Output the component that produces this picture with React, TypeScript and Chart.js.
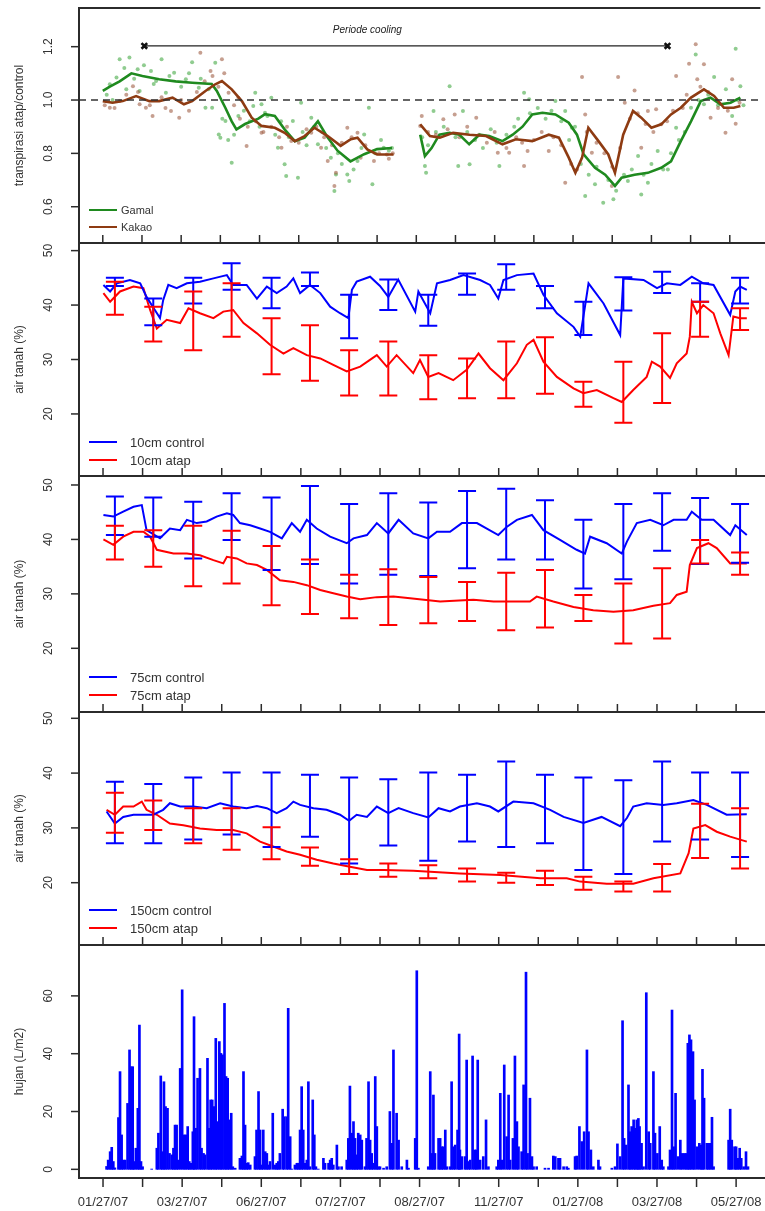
import React, { useEffect, useRef } from "react";
import { Chart, registerables } from "chart.js";

Chart.register(...registerables);

const FONT = '"Liberation Sans", Arial, Helvetica, sans-serif';
const PAGE_W = 765;
const PLOT_LEFT = 79;
const X_MIN = -0.607;
const X_MAX = 16.73;

// x axis: months since 01/27/07
const X_TICK_MONTHS = [0, 1, 2, 3, 4, 5, 6, 7, 8, 9, 10, 11, 12, 13, 14, 15, 16];
const X_TICK_LABELS = ["01/27/07", "", "03/27/07", "", "06/27/07", "", "07/27/07", "", "08/27/07", "", "11/27/07", "", "01/27/08", "", "03/27/08", "", "05/27/08"];

// ---------- Panel 1: transpirasi atap/control ----------
const gamalLineX = [0, 0.18, 0.43, 0.73, 1.01, 1.44, 1.86, 2.28, 2.78, 2.91, 3.13, 3.29, 3.41, 3.63, 3.97, 4.14, 4.39, 4.64, 4.9, 5.15, 5.49, 5.74, 5.99, 6.32, 6.67, 7.0, 7.38, 7.75, 8.1, 8.22, 8.39, 8.59, 8.85, 9.1, 9.35, 9.61, 9.86, 10.2, 10.46, 10.71, 10.96, 11.22, 11.55, 11.89, 12.1, 12.27, 12.56, 12.82, 13.07, 13.24, 13.57, 13.91, 14.25, 14.5, 14.75, 15.01, 15.26, 15.51, 15.76, 16.02, 16.27];
const gamalLineY = [1.034, 1.05, 1.07, 1.1, 1.09, 1.078, 1.07, 1.065, 1.06, 1.034, 0.97, 0.92, 0.89, 0.91, 0.93, 0.947, 0.94, 0.89, 0.846, 0.859, 0.92, 0.859, 0.81, 0.77, 0.797, 0.816, 0.82, null, 0.87, 0.79, 0.82, 0.87, 0.877, 0.87, 0.834, 0.87, 0.865, 0.846, 0.87, 0.9, 0.946, 0.952, 0.946, 0.915, 0.87, 0.796, 0.746, 0.72, 0.678, 0.709, 0.72, 0.727, 0.746, 0.77, 0.846, 0.92, 0.996, 1.009, 0.984, 0.99, 1.009];
const kakaoLineX = [0, 0.25, 0.51, 0.85, 1.19, 1.44, 1.78, 2.07, 2.28, 2.62, 2.87, 3.04, 3.29, 3.55, 3.8, 4.05, 4.39, 4.64, 4.9, 5.15, 5.4, 5.74, 6.07, 6.33, 6.5, 6.75, 7.0, 7.42, 7.75, 8.1, 8.35, 8.6, 8.94, 9.36, 9.78, 10.2, 10.54, 10.96, 11.38, 11.64, 11.89, 12.06, 12.23, 12.39, 12.65, 12.9, 13.07, 13.28, 13.53, 13.74, 14.0, 14.25, 14.5, 14.75, 15.01, 15.34, 15.6, 15.85, 16.1, 16.27];
const kakaoLineY = [0.996, 0.99, 0.996, 1.015, 0.996, 0.996, 1.009, 0.984, 0.996, 1.034, 1.059, 1.071, 1.04, 0.996, 0.934, 0.903, 0.896, 0.877, 0.846, 0.865, 0.896, 0.865, 0.828, 0.853, 0.859, 0.815, 0.796, 0.796, null, 0.909, 0.865, 0.859, 0.877, 0.87, 0.865, 0.834, 0.853, 0.846, 0.87, 0.859, 0.784, 0.727, 0.784, 0.896, 0.846, 0.796, 0.727, 0.87, 0.959, 0.934, 0.896, 0.909, 0.946, 0.971, 1.009, 1.04, 1.015, 0.971, 0.971, 0.978];

const gamalDotsX = [0.43, 0.68, 1.5, 2.28, 2.87, 0.89, 1.23, 1.82, 0.18, 0.35, 0.6, 0.94, 1.36, 1.61, 2.12, 2.45, 2.62, 2.79, 2.96, 3.0, 3.29, 3.13, 3.46, 3.89, 4.05, 4.3, 3.84, 4.14, 4.47, 4.64, 4.68, 4.98, 5.06, 4.85, 5.32, 5.49, 5.82, 5.91, 5.95, 6.24, 6.29, 6.5, 6.67, 6.79, 6.88, 7.17, 7.38,
  8.85, 8.44, 8.22, 8.25, 9.07, 9.36, 9.19, 10.12, 10.75, 10.88, 11.55, 11.8, 11.97, 12.31, 12.56, 12.77, 13.03, 13.4, 13.74, 13.91, 13.66, 14.16, 14.42, 14.63, 15.01, 15.13, 15.6, 16.15, 16.27, 16.06, 15.34,
  0.1, 0.25, 0.55, 0.8, 1.05, 1.3, 1.7, 2.0, 2.2, 2.5, 2.7, 3.05, 3.2, 3.35, 3.6, 3.75, 4.0, 4.2, 4.4, 4.55, 4.75, 5.1, 5.2, 5.4, 5.6, 5.7, 6.0, 6.1, 6.4, 6.6, 6.95, 7.1, 7.3,
  8.15, 8.3, 8.5, 8.7, 9.0, 9.3, 9.5, 9.7, 9.9, 10.05, 10.3, 10.5, 10.6, 10.9, 11.1, 11.3, 11.45, 11.7, 11.9, 12.05, 12.2, 12.4, 12.6, 12.9, 13.1, 13.3, 13.5, 13.8, 14.0, 14.3, 14.5, 14.7, 14.85, 15.2, 15.45, 15.7, 15.9, 16.2, 16.35];
const gamalDotsY = [1.153, 1.159, 1.153, 1.142, 1.14, 1.115, 1.109, 1.102, 1.059, 1.084, 1.04, 1.034, 1.071, 1.027, 1.078, 1.046, 0.971, 0.971, 0.871, 0.859, 0.765, 0.921, 0.94, 1.027, 0.984, 1.009, 0.978, 0.952, 0.821, 0.759, 0.715, 0.709, 0.99, 0.921, 0.934, 0.834, 0.784, 0.659, 0.721, 0.721, 0.696, 0.771, 0.871, 0.971, 0.684, 0.821, 0.82,
  1.052, 0.959, 0.753, 0.727, 0.753, 0.759, 0.959, 0.753, 1.027, 1.003, 0.996, 0.959, 0.896, 0.64, 0.684, 0.615, 0.628, 0.696, 0.646, 0.69, 0.79, 0.809, 0.74, 0.896, 0.971, 1.171, 1.086, 1.192, 1.052, 0.94, 0.984,
  1.02, 1.0, 1.12, 1.08, 1.13, 1.06, 1.09, 1.05, 1.1, 1.08, 1.04, 0.93, 0.85, 0.87, 0.96, 0.92, 0.9, 0.94, 0.87, 0.92, 0.86, 0.88, 0.83, 0.9, 0.88, 0.82, 0.8, 0.76, 0.74, 0.82, 0.8, 0.85, 0.81,
  0.86, 0.83, 0.88, 0.9, 0.86, 0.88, 0.85, 0.82, 0.89, 0.84, 0.87, 0.9, 0.93, 0.95, 0.97, 0.93, 0.96, 0.92, 0.85, 0.9, 0.76, 0.72, 0.75, 0.7, 0.66, 0.72, 0.74, 0.72, 0.76, 0.74, 0.8, 0.85, 0.88, 1.0, 1.02, 0.98, 1.04, 1.0, 0.98];
const kakaoDotsX = [2.49, 3.04, 2.75, 0.77, 0.18, 1.27, 1.74, 1.95, 1.1, 3.67, 3.21, 3.46, 4.05, 4.56, 4.81, 5.32, 5.57, 5.74, 5.95, 5.91, 6.24, 6.5, 6.58, 6.92, 7.25, 0.43, 0.94,
  8.14, 8.1, 8.69, 8.98, 9.53, 10.08, 10.75, 10.37, 10.84, 11.38, 11.8, 12.23, 12.31, 12.48, 12.99, 13.15, 13.57, 13.32, 13.91, 14.12, 14.63, 15.13, 14.96, 15.34, 15.17, 15.51, 15.89, 16.15, 16.06, 13.74, 14.25,
  0.05, 0.3, 0.6, 0.9, 1.2, 1.5, 1.6, 2.0, 2.2, 2.4, 2.6, 2.8, 2.95, 3.1, 3.35, 3.5, 3.7, 3.9, 4.1, 4.3, 4.5, 4.7, 5.0, 5.2, 5.45, 5.65, 5.85, 6.1, 6.35, 6.7, 7.05, 7.3, 7.4,
  8.3, 8.5, 8.8, 9.1, 9.3, 9.6, 9.8, 10.0, 10.3, 10.55, 10.7, 11.0, 11.2, 11.5, 11.7, 11.95, 12.1, 12.35, 12.6, 12.8, 13.0, 13.2, 13.45, 13.65, 13.85, 14.05, 14.4, 14.55, 14.8, 14.9, 15.25, 15.45, 15.7, 15.95, 16.25];
const kakaoDotsY = [1.177, 1.153, 1.109, 1.052, 0.971, 0.94, 0.959, 0.934, 0.971, 0.828, 1.027, 1.009, 0.877, 0.821, 0.846, 0.877, 0.821, 0.771, 0.727, 0.678, 0.896, 0.877, 0.784, 0.771, 0.796, 0.996, 0.984,
  0.94, 0.903, 0.928, 0.946, 0.934, 0.802, 0.753, 0.802, 0.809, 0.809, 0.69, 1.086, 0.946, 0.802, 0.678, 1.086, 1.036, 0.99, 0.959, 0.965, 1.09, 1.209, 1.136, 1.134, 1.078, 0.934, 0.877, 0.911, 1.078, 0.821, 0.909,
  0.98, 0.97, 1.02, 1.03, 0.98, 1.01, 0.97, 1.0, 0.96, 1.03, 1.07, 1.09, 1.05, 1.1, 0.98, 0.93, 0.9, 0.92, 0.88, 0.9, 0.86, 0.9, 0.84, 0.89, 0.9, 0.86, 0.83, 0.84, 0.86, 0.83, 0.8, 0.78, 0.8,
  0.88, 0.87, 0.89, 0.86, 0.9, 0.87, 0.84, 0.88, 0.82, 0.86, 0.84, 0.85, 0.88, 0.86, 0.83, 0.76, 0.74, 0.88, 0.84, 0.8, 0.75, 0.82, 0.93, 0.95, 0.91, 0.88, 0.92, 0.96, 0.97, 1.02, 1.05, 1.03, 0.97, 0.96, 0.99];

const coolingSpanX = [1.06, 14.41];
const coolingSpanY = [1.203, 1.203];
const referenceLevel = 1.0;

// ---------- Error bar months (shared by panels 2-4) ----------
const errMonths = [0.3, 1.27, 2.28, 3.25, 4.26, 5.23, 6.22, 7.21, 8.22, 9.2, 10.19, 11.17, 12.14, 13.15, 14.13, 15.09, 16.1];

// ---------- Panel 2: 10cm ----------
const c10X = [0.01, 0.18, 0.35, 0.68, 0.94, 1.1, 1.31, 1.44, 1.52, 1.65, 1.86, 2.12, 2.45, 2.79, 3.13, 3.29, 3.63, 3.89, 4.14, 4.39, 4.64, 4.81, 4.98, 5.23, 5.49, 5.74, 5.99, 6.2, 6.29, 6.41, 6.75, 7.0, 7.21, 7.46, 7.89, 7.97, 8.27, 8.44, 8.77, 9.11, 9.53, 9.78, 9.99, 10.12, 10.46, 10.88, 11.13, 11.47, 11.89, 12.06, 12.18, 12.27, 12.65, 13.07, 13.15, 13.66, 14.0, 14.25, 14.59, 14.88, 15.17, 15.43, 15.85, 15.98, 16.1, 16.27];
const c10Y = [43.7, 42.5, 44.0, 44.6, 44.0, 41.5, 39.1, 37.6, 40.9, 43.7, 43.1, 44.0, 44.3, 44.9, 45.5, 43.7, 43.7, 41.2, 43.4, 42.2, 43.4, 44.9, 42.2, 43.7, 42.2, 39.7, 38.5, 37.6, 42.8, 44.3, 45.2, 43.5, 41.5, 44.7, 38.8, 42.5, 38.5, 44.0, 44.6, 45.5, 44.6, 43.7, 41.2, 44.6, 45.5, 45.8, 41.9, 38.5, 36.0, 34.2, 39.7, 44.0, 40.3, 34.5, 44.9, 44.6, 43.1, 44.0, 43.7, 45.2, 44.0, 43.7, 38.2, 42.5, 43.4, 42.8];
const a10X = [0.01, 0.18, 0.43, 0.77, 1.02, 1.19, 1.36, 1.61, 1.95, 2.16, 2.45, 2.79, 3.04, 3.29, 3.55, 3.89, 4.22, 4.56, 4.81, 5.15, 5.49, 5.82, 6.16, 6.5, 6.92, 7.17, 7.42, 7.84, 8.01, 8.22, 8.48, 8.85, 9.19, 9.49, 9.78, 10.12, 10.46, 10.71, 10.88, 11.13, 11.47, 11.89, 12.14, 12.48, 12.9, 13.11, 13.4, 13.74, 13.87, 14.08, 14.33, 14.5, 14.75, 14.83, 14.88, 15.01, 15.17, 15.43, 15.6, 15.81, 15.93, 16.1, 16.27];
const a10Y = [42.2, 40.6, 42.5, 43.4, 43.1, 39.1, 35.7, 37.3, 36.7, 39.4, 38.5, 37.6, 38.8, 39.1, 36.7, 34.8, 32.7, 31.1, 32.1, 30.8, 30.2, 29.0, 27.8, 28.7, 30.8, 28.7, 30.8, 27.5, 29.9, 26.8, 27.5, 26.2, 28.1, 31.1, 28.4, 26.2, 29.3, 32.7, 33.6, 29.6, 26.8, 24.7, 23.8, 24.4, 22.9, 22.2, 24.4, 26.8, 29.6, 28.7, 26.6, 29.3, 31.1, 34.2, 40.6, 38.5, 40.0, 38.5, 34.8, 30.8, 37.9, 37.6, 37.6];
const c10Lo = [43.5, 36.3, 40.3, 42.8, 39.4, 43.5, 33.9, 39.1, 36.2, 41.9, 42.8, 39.4, 34.5, 39.0, 42.2, 40.6, 40.3];
const c10Hi = [45.0, 41.2, 45.0, 47.7, 45.0, 46.0, 41.9, 44.7, 41.9, 45.8, 47.5, 43.5, 40.6, 45.1, 46.1, 44.0, 45.0];
const a10Lo = [38.2, 33.3, 31.7, 34.2, 27.3, 26.1, 23.4, 23.4, 22.7, 22.9, 22.9, 23.7, 21.3, 18.4, 22.0, 34.2, 35.4];
const a10Hi = [44.3, 39.7, 42.5, 44.0, 37.6, 36.3, 31.7, 33.3, 30.8, 30.2, 33.3, 34.1, 25.9, 29.6, 34.8, 40.6, 39.4];

// ---------- Panel 3: 75cm ----------
const c75X = [0.01, 0.26, 0.51, 0.77, 0.98, 1.1, 1.44, 1.69, 1.95, 2.12, 2.37, 2.62, 2.87, 3.13, 3.29, 3.46, 3.72, 3.97, 4.22, 4.52, 4.77, 4.98, 5.15, 5.4, 5.74, 6.16, 6.33, 6.67, 6.92, 7.21, 7.47, 7.84, 8.22, 8.44, 8.77, 9.07, 9.45, 9.7, 9.99, 10.2, 10.46, 10.84, 11.13, 11.55, 11.97, 12.18, 12.31, 12.73, 13.11, 13.24, 13.49, 13.83, 14.16, 14.42, 14.75, 14.88, 15.13, 15.43, 15.85, 15.98, 16.27];
const c75Y = [44.5, 44.2, 45.1, 46.0, 46.3, 41.7, 40.2, 42.0, 41.7, 43.6, 43.0, 43.3, 44.2, 44.8, 44.5, 43.0, 42.6, 42.0, 41.4, 40.2, 43.0, 41.4, 43.6, 42.0, 40.5, 39.3, 40.2, 40.8, 43.0, 41.1, 43.6, 41.1, 40.2, 41.4, 41.4, 43.0, 43.0, 42.0, 40.8, 42.3, 43.6, 44.5, 41.7, 39.9, 38.1, 37.4, 40.5, 39.3, 37.4, 39.6, 43.0, 43.6, 42.6, 43.6, 43.6, 45.1, 43.6, 43.6, 40.8, 42.6, 40.8];
const a75X = [0.01, 0.26, 0.51, 0.77, 1.02, 1.19, 1.36, 1.78, 2.12, 2.45, 2.79, 3.04, 3.13, 3.38, 3.63, 3.89, 4.14, 4.47, 4.81, 5.15, 5.49, 5.82, 6.16, 6.5, 6.92, 7.34, 7.76, 8.52, 9.36, 9.87, 10.79, 10.96, 11.38, 11.89, 12.39, 12.9, 13.4, 13.91, 14.33, 14.5, 14.75, 14.83, 15.01, 15.3, 15.51, 15.85, 16.27];
const a75Y = [40.0, 39.0, 40.5, 41.4, 41.4, 40.5, 38.1, 37.4, 37.4, 37.1, 36.2, 35.6, 36.8, 36.5, 35.6, 35.3, 34.4, 32.5, 32.2, 31.6, 30.7, 30.1, 29.5, 29.0, 29.4, 29.5, 29.2, 28.6, 28.9, 28.6, 28.6, 29.5, 28.6, 27.6, 27.0, 26.7, 27.0, 27.8, 28.3, 29.8, 30.4, 35.3, 38.4, 39.3, 38.4, 35.6, 35.6];
const c75Lo = [40.8, 40.5, 36.5, 39.9, 34.4, 35.5, 31.9, 33.5, 33.3, 34.7, 36.3, 36.3, 31.0, 32.7, 37.9, 35.5, 35.7];
const c75Hi = [47.9, 47.7, 46.9, 48.5, 47.7, 49.8, 46.5, 48.5, 46.8, 48.9, 49.3, 47.2, 43.6, 46.5, 48.5, 47.6, 46.5];
const a75Lo = [36.3, 35.0, 31.4, 31.9, 27.9, 26.3, 25.5, 24.3, 24.6, 25.0, 23.3, 23.8, 25.0, 20.9, 21.8, 35.6, 33.5];
const a75Hi = [42.5, 41.7, 42.5, 41.6, 38.8, 36.3, 33.5, 34.5, 33.1, 32.2, 33.9, 34.4, 29.8, 31.9, 34.7, 39.9, 37.6];

// ---------- Panel 4: 150cm ----------
const c150X = [0.09, 0.3, 0.51, 0.77, 1.02, 1.27, 1.52, 1.69, 1.95, 2.28, 2.62, 2.96, 3.29, 3.63, 3.89, 4.14, 4.39, 4.64, 4.81, 4.98, 5.32, 5.65, 5.99, 6.22, 6.41, 6.67, 6.92, 7.21, 7.47, 7.84, 8.22, 8.48, 8.77, 9.02, 9.45, 9.78, 9.99, 10.37, 10.88, 11.3, 11.64, 12.14, 12.6, 13.07, 13.24, 13.4, 13.74, 14.16, 14.5, 14.92, 15.26, 15.76, 16.27];
const c150Y = [33.0, 30.8, 32.0, 32.4, 32.4, 32.4, 33.3, 34.5, 33.9, 33.9, 33.6, 34.5, 33.9, 33.6, 34.0, 33.6, 32.7, 33.6, 34.8, 34.2, 33.6, 33.3, 32.4, 31.3, 32.4, 32.0, 33.9, 32.7, 33.6, 32.7, 31.9, 33.6, 33.0, 33.9, 34.5, 33.9, 33.0, 34.8, 34.5, 33.3, 32.0, 30.9, 32.0, 30.3, 31.8, 33.9, 34.5, 34.2, 34.5, 35.1, 34.2, 32.4, 32.5];
const a150X = [0.09, 0.3, 0.51, 0.77, 0.98, 1.1, 1.36, 1.69, 2.03, 2.45, 2.87, 3.29, 3.63, 3.97, 4.3, 4.64, 4.98, 5.4, 5.82, 6.24, 6.67, 7.09, 7.84, 9.02, 10.04, 11.05, 11.72, 12.06, 12.73, 13.4, 13.91, 14.59, 14.8, 14.92, 15.22, 15.51, 15.85, 16.27];
const a150Y = [33.3, 32.4, 33.9, 33.9, 34.8, 33.3, 32.4, 30.8, 30.5, 29.9, 29.6, 29.6, 29.0, 27.5, 26.6, 25.7, 25.1, 24.2, 23.5, 22.9, 22.3, 22.3, 22.2, 21.7, 21.4, 20.8, 20.8, 20.2, 19.8, 19.8, 20.8, 21.7, 25.4, 29.9, 30.5, 29.3, 28.4, 27.5];
const c150Lo = [27.2, 27.2, 27.9, 28.8, 26.5, 28.4, 23.5, 26.8, 24.0, 27.5, 26.5, 27.2, 22.3, 21.6, 27.5, 27.9, 24.7];
const c150Hi = [38.4, 38.0, 39.2, 40.1, 40.1, 39.7, 39.2, 38.9, 40.1, 39.7, 42.1, 39.7, 39.2, 38.7, 42.1, 40.1, 40.1];
const a150Lo = [29.1, 29.6, 27.2, 26.0, 24.3, 23.1, 21.6, 21.1, 20.8, 20.2, 20.0, 19.6, 18.7, 18.4, 18.4, 24.5, 22.6];
const a150Hi = [36.4, 35.0, 33.6, 33.6, 30.1, 26.4, 24.3, 23.5, 23.2, 22.6, 21.8, 22.2, 21.1, 20.2, 23.4, 34.4, 33.6];

// ---------- Panel 5: hujan (L/m2) ----------
const rainMonthsA = [0.09, 0.13, 0.18, 0.22, 0.26, 0.3, 0.39, 0.43, 0.47, 0.51, 0.56, 0.62, 0.67, 0.71, 0.75, 0.78, 0.83, 0.88, 0.92, 0.96, 1.0, 1.23, 1.36, 1.4, 1.46, 1.5, 1.54, 1.58, 1.63, 1.68, 1.74, 1.78, 1.82, 1.86, 1.9, 1.95, 2.0, 2.05, 2.09, 2.14, 2.18, 2.22, 2.27, 2.3, 2.34, 2.39, 2.45, 2.49, 2.54, 2.58, 2.64, 2.68, 2.72, 2.76, 2.81, 2.85, 2.89, 2.94, 2.98, 3.02, 3.07, 3.11, 3.15, 3.19, 3.24, 3.28, 3.34, 3.46, 3.51, 3.55, 3.59, 3.63, 3.67, 3.72, 3.84, 3.88, 3.93, 3.97, 4.01, 4.05, 4.1, 4.14, 4.18, 4.22, 4.29, 4.35, 4.39, 4.43, 4.47, 4.54, 4.58, 4.64, 4.68, 4.73, 4.77, 4.85, 4.9, 4.94, 4.98, 5.02, 5.06, 5.11, 5.15, 5.19, 5.23, 5.3, 5.34, 5.38, 5.44, 5.57, 5.61, 5.7, 5.74, 5.78, 5.82, 5.91, 5.95, 6.03, 6.16, 6.2, 6.24, 6.29, 6.33, 6.37, 6.41, 6.45, 6.5, 6.54, 6.62, 6.66, 6.71, 6.75, 6.79, 6.83, 6.88, 6.92, 6.96, 7.0, 7.09, 7.17, 7.25, 7.3, 7.34, 7.42, 7.47];
const rainMmA = [1, 3.2, 6.1, 7.6, 2.7, 0.5, 17.9, 33.8, 11.9, 3.2, 3.2, 22.8, 41.3, 35.5, 35.5, 2.7, 7.3, 21.1, 49.9, 2.7, 0.9, 0.1, 7.3, 12.5, 32.3, 6.1, 30.3, 21.7, 21.1, 5.5, 5.0, 7.3, 15.3, 15.3, 3.2, 34.9, 62.1, 11.9, 11.9, 14.8, 2.7, 2.1, 13.0, 52.8, 14.2, 31.5, 34.9, 7.3, 5.5, 5.0, 38.4, 14.2, 24.0, 24.0, 21.7, 45.3, 16.5, 44.2, 40.1, 39.6, 57.4, 32.1, 31.5, 17.1, 19.4, 0.9, 0.4, 3.8, 4.6, 33.8, 15.3, 2.1, 2.3, 1.5, 4.4, 13.6, 26.9, 13.6, 1.5, 13.6, 6.1, 5.5, 1.5, 2.7, 19.4, 1.5, 2.1, 2.7, 5.5, 20.8, 18.2, 18.2, 55.7, 11.3, 0.1, 1.5, 2.1, 2.1, 13.6, 28.6, 13.6, 2.1, 3.2, 30.3, 0.9, 24.0, 11.9, 0.9, 0.1, 3.8, 2.1, 2.1, 3.2, 3.8, 1.5, 8.4, 0.9, 0.9, 3.2, 10.7, 28.8, 12.5, 16.5, 10.7, 5.0, 12.5, 11.9, 10.1, 0.9, 10.7, 30.3, 10.1, 5.5, 2.1, 32.1, 14.8, 0.9, 0.9, 0.4, 0.9, 20.0, 9.0, 41.3, 19.4, 10.1];
const rainMonthsB = [7.55, 7.68, 7.72, 7.89, 7.93, 7.97, 8.22, 8.27, 8.31, 8.35, 8.39, 8.48, 8.52, 8.56, 8.6, 8.65, 8.69, 8.77, 8.81, 8.86, 8.9, 8.96, 9.0, 9.02, 9.07, 9.15, 9.19, 9.24, 9.28, 9.34, 9.39, 9.43, 9.47, 9.53, 9.61, 9.68, 9.74, 9.95, 9.99, 10.04, 10.08, 10.14, 10.2, 10.25, 10.29, 10.36, 10.41, 10.46, 10.5, 10.58, 10.63, 10.69, 10.73, 10.79, 10.84, 10.88, 10.96, 11.17, 11.26, 11.38, 11.43, 11.51, 11.55, 11.64, 11.72, 11.76, 11.93, 11.97, 12.04, 12.1, 12.16, 12.23, 12.27, 12.33, 12.39, 12.52, 12.56, 12.86, 12.94, 13.0, 13.07, 13.13, 13.17, 13.22, 13.28, 13.32, 13.36, 13.41, 13.45, 13.49, 13.53, 13.56, 13.61, 13.66, 13.73, 13.79, 13.83, 13.91, 13.95, 14.01, 14.07, 14.12, 14.16, 14.29, 14.33, 14.38, 14.42, 14.47, 14.53, 14.59, 14.63, 14.69, 14.74, 14.78, 14.82, 14.86, 14.91, 14.95, 15.01, 15.07, 15.12, 15.15, 15.19, 15.26, 15.3, 15.34, 15.39, 15.43, 15.81, 15.85, 15.89, 15.96, 16.0, 16.04, 16.09, 16.13, 16.19, 16.25, 16.3];
const rainMmB = [0.9, 3.2, 0.4, 10.7, 68.7, 0.4, 0.9, 33.8, 5.5, 25.7, 5.5, 10.7, 10.7, 7.8, 7.8, 13.6, 0.9, 0.9, 30.3, 7.8, 8.4, 13.6, 46.8, 6.7, 4.4, 4.4, 37.8, 2.7, 3.2, 39.2, 6.7, 6.7, 37.8, 3.2, 4.4, 17.1, 0.9, 0.9, 3.2, 26.3, 3.2, 36.1, 11.3, 25.7, 3.2, 10.7, 39.2, 16.5, 7.8, 6.1, 29.2, 68.2, 5.5, 24.6, 4.4, 0.9, 0.9, 0.4, 0.4, 4.6, 4.4, 3.8, 3.8, 0.9, 0.9, 0.4, 4.4, 4.6, 14.8, 9.6, 13.0, 41.3, 13.0, 6.7, 0.9, 3.2, 0.9, 0.4, 0.9, 8.8, 4.4, 51.4, 10.7, 8.4, 29.2, 13.0, 14.8, 17.1, 14.2, 17.1, 17.6, 14.8, 9.0, 0.9, 61.1, 13.0, 9.0, 33.8, 12.5, 5.5, 14.8, 3.2, 0.9, 0.9, 6.7, 55.1, 7.8, 26.3, 4.4, 10.1, 5.5, 5.5, 5.5, 43.6, 46.5, 44.8, 40.7, 24.0, 7.8, 9.0, 8.4, 34.6, 24.6, 9.0, 9.0, 9.0, 18.0, 0.9, 10.1, 20.8, 10.1, 7.8, 7.8, 3.8, 7.3, 3.8, 0.9, 6.1, 0.9];

// ---------- helpers ----------
const pts = (xs: number[], ys: (number | null)[]) => xs.slice(0, ys.length).map((x, i) => ({ x, y: ys[i] }));
const lineDs = (label: string, xs: number[], ys: (number | null)[], color: string, width: number) => ({
  type: "line", label, data: pts(xs, ys), borderColor: color, backgroundColor: color,
  borderWidth: width, pointRadius: 0, tension: 0, spanGaps: false, fill: false,
});
const dotDs = (label: string, xs: number[], ys: number[], color: string) => ({
  type: "line", label, data: pts(xs, ys), showLine: false, pointRadius: 2,
  pointBackgroundColor: color, pointBorderWidth: 0, borderColor: color, backgroundColor: color,
});

const BLUE = "#0000ff";
const RED = "#ff0000";
const GREEN = "#1f8a1f";
const BROWN = "#8e3b12";

type Panel = {
  top: number; height: number; padTop: number; padBottom: number;
  yMin: number; yMax: number; yTicks: number[]; yFmt: (v: number) => string; yTitle: string;
  build: () => any[];
  errBars?: { color: string; lo: number[]; hi: number[] }[];
  legend: { label: string; color: string; dy: number }[];
  legendTextDx: number; legendFont: number;
  bottomAxis: boolean;
  cooling?: boolean;
};

const PANELS: Panel[] = [
  {
    top: 0, height: 253, padTop: 8, padBottom: 10, yMin: 0.464, yMax: 1.345,
    yTicks: [0.6, 0.8, 1.0, 1.2], yFmt: (v) => v.toFixed(1), yTitle: "transpirasi atap/control",
    build: () => [
      { type: "line", label: "ref", data: pts([X_MIN, X_MAX], [referenceLevel, referenceLevel]), borderColor: "#333", borderWidth: 1.5, borderDash: [7, 5], pointRadius: 0 },
      { type: "line", label: "Periode cooling", data: pts(coolingSpanX, coolingSpanY), borderColor: "#222", borderWidth: 1.2, pointStyle: "crossRot", pointRadius: 4, pointBorderWidth: 2.6, pointBorderColor: "#111" },
      lineDs("Kakao", kakaoLineX, kakaoLineY, BROWN, 2.6),
      lineDs("Gamal", gamalLineX, gamalLineY, GREEN, 2.6),
      dotDs("Kakao pts", kakaoDotsX, kakaoDotsY, "rgba(160,95,70,0.6)"),
      dotDs("Gamal pts", gamalDotsX, gamalDotsY, "rgba(70,170,70,0.6)"),
    ],
    legend: [{ label: "Gamal", color: GREEN, dy: -33 }, { label: "Kakao", color: BROWN, dy: -16 }],
    legendTextDx: 42, legendFont: 11, bottomAxis: false, cooling: true,
  },
  {
    top: 233, height: 253, padTop: 10, padBottom: 10, yMin: 8.6, yMax: 51.4,
    yTicks: [20, 30, 40, 50], yFmt: (v) => String(v), yTitle: "air tanah (%)",
    build: () => [lineDs("10cm control", c10X, c10Y, BLUE, 2), lineDs("10cm atap", a10X, a10Y, RED, 2)],
    errBars: [{ color: BLUE, lo: c10Lo, hi: c10Hi }, { color: RED, lo: a10Lo, hi: a10Hi }],
    legend: [{ label: "10cm control", color: BLUE, dy: -34 }, { label: "10cm atap", color: RED, dy: -16 }],
    legendTextDx: 51, legendFont: 13, bottomAxis: false,
  },
  {
    top: 466, height: 256, padTop: 10, padBottom: 10, yMin: 8.3, yMax: 51.65,
    yTicks: [20, 30, 40, 50], yFmt: (v) => String(v), yTitle: "air tanah (%)",
    build: () => [lineDs("75cm control", c75X, c75Y, BLUE, 2), lineDs("75cm atap", a75X, a75Y, RED, 2)],
    errBars: [{ color: BLUE, lo: c75Lo, hi: c75Hi }, { color: RED, lo: a75Lo, hi: a75Hi }],
    legend: [{ label: "75cm control", color: BLUE, dy: -35 }, { label: "75cm atap", color: RED, dy: -17 }],
    legendTextDx: 51, legendFont: 13, bottomAxis: false,
  },
  {
    top: 702, height: 253, padTop: 10, padBottom: 10, yMin: 8.63, yMax: 51.15,
    yTicks: [20, 30, 40, 50], yFmt: (v) => String(v), yTitle: "air tanah (%)",
    build: () => [lineDs("150cm control", c150X, c150Y, BLUE, 2), lineDs("150cm atap", a150X, a150Y, RED, 2)],
    errBars: [{ color: BLUE, lo: c150Lo, hi: c150Hi }, { color: RED, lo: a150Lo, hi: a150Hi }],
    legend: [{ label: "150cm control", color: BLUE, dy: -35 }, { label: "150cm atap", color: RED, dy: -17 }],
    legendTextDx: 51, legendFont: 13, bottomAxis: false,
  },
  {
    top: 935, height: 276, padTop: 10, padBottom: 33, yMin: -3.0, yMax: 77.6,
    yTicks: [0, 20, 40, 60], yFmt: (v) => String(v), yTitle: "hujan (L/m2)",
    build: () => [{
      type: "bar", label: "hujan",
      data: [...pts(rainMonthsA, rainMmA), ...pts(rainMonthsB, rainMmB)],
      backgroundColor: BLUE, borderWidth: 0, barThickness: 2,
    }],
    legend: [], legendTextDx: 51, legendFont: 13, bottomAxis: true,
  },
];

function framePlugin(p: Panel) {
  return {
    id: "frame",
    afterDatasetsDraw(chart: any) {
      const ctx = chart.ctx;
      const xs = chart.scales.x;
      const ys = chart.scales.y;
      if (p.errBars) {
        ctx.save();
        ctx.lineWidth = 2;
        for (const eb of p.errBars) {
          ctx.strokeStyle = eb.color;
          errMonths.forEach((m, i) => {
            const px = xs.getPixelForValue(m);
            const y1 = ys.getPixelForValue(eb.lo[i]);
            const y2 = ys.getPixelForValue(eb.hi[i]);
            ctx.beginPath();
            ctx.moveTo(px, y1); ctx.lineTo(px, y2);
            ctx.moveTo(px - 9, y1); ctx.lineTo(px + 9, y1);
            ctx.moveTo(px - 9, y2); ctx.lineTo(px + 9, y2);
            ctx.stroke();
          });
        }
        ctx.restore();
      }
    },
    afterDraw(chart: any) {
      const ctx = chart.ctx;
      const a = chart.chartArea;
      const xs = chart.scales.x;
      const ys = chart.scales.y;
      ctx.save();
      // frame
      ctx.strokeStyle = "#2b2b2b";
      ctx.lineWidth = 2;
      ctx.beginPath();
      ctx.moveTo(a.right + 2, a.top); ctx.lineTo(a.left, a.top); ctx.lineTo(a.left, a.bottom); ctx.lineTo(a.right + 2, a.bottom);
      ctx.stroke();
      // y ticks + labels
      ctx.lineWidth = 1.5;
      ctx.fillStyle = "#333";
      ctx.font = `12px ${FONT}`;
      for (const v of p.yTicks) {
        const py = ys.getPixelForValue(v);
        ctx.beginPath(); ctx.moveTo(a.left - 8, py); ctx.lineTo(a.left, py); ctx.stroke();
        ctx.save();
        ctx.translate(a.left - 30, py);
        ctx.rotate(-Math.PI / 2);
        ctx.textAlign = "center"; ctx.textBaseline = "middle";
        ctx.fillText(p.yFmt(v), 0, 0);
        ctx.restore();
      }
      // y title
      ctx.save();
      ctx.translate(20, (a.top + a.bottom) / 2);
      ctx.rotate(-Math.PI / 2);
      ctx.textAlign = "center"; ctx.textBaseline = "middle";
      ctx.font = `12px ${FONT}`;
      ctx.fillText(p.yTitle, 0, 0);
      ctx.restore();
      // x ticks
      X_TICK_MONTHS.forEach((m, i) => {
        const px = xs.getPixelForValue(m);
        ctx.beginPath();
        if (p.bottomAxis) { ctx.moveTo(px, a.bottom); ctx.lineTo(px, a.bottom + 9); }
        else { ctx.moveTo(px, a.bottom); ctx.lineTo(px, a.bottom - 8); }
        ctx.stroke();
        if (p.bottomAxis && X_TICK_LABELS[i]) {
          ctx.font = `13px ${FONT}`;
          ctx.textAlign = "center"; ctx.textBaseline = "middle";
          ctx.fillText(X_TICK_LABELS[i], px, a.bottom + 24);
        }
      });
      // legend
      for (const e of p.legend) {
        const y = a.bottom + e.dy;
        ctx.strokeStyle = e.color; ctx.lineWidth = 2;
        ctx.beginPath(); ctx.moveTo(a.left + 10, y); ctx.lineTo(a.left + 38, y); ctx.stroke();
        ctx.fillStyle = "#333";
        ctx.font = `${p.legendFont}px ${FONT}`;
        ctx.textAlign = "left"; ctx.textBaseline = "middle";
        ctx.fillText(e.label, a.left + p.legendTextDx, y + 1);
      }
      // cooling label
      if (p.cooling) {
        ctx.fillStyle = "#222";
        ctx.font = `italic 10px ${FONT}`;
        ctx.textAlign = "center"; ctx.textBaseline = "middle";
        ctx.fillText("Periode cooling", xs.getPixelForValue(6.75), ys.getPixelForValue(1.262));
      }
      ctx.restore();
    },
  };
}

function PanelChart({ p }: { p: Panel }) {
  const ref = useRef<HTMLCanvasElement>(null);
  useEffect(() => {
    const canvas = ref.current;
    if (!canvas) return;
    const chart = new Chart(canvas, {
      type: "line",
      data: { datasets: p.build() as any },
      options: {
        animation: false,
        responsive: false,
        maintainAspectRatio: false,
        devicePixelRatio: 1,
        events: [],
        layout: { padding: { left: PLOT_LEFT, right: 0, top: p.padTop, bottom: p.padBottom } },
        plugins: { legend: { display: false }, tooltip: { enabled: false } },
        scales: {
          x: { type: "linear", min: X_MIN, max: X_MAX, display: false, offset: false, grid: { offset: false } },
          y: { type: "linear", min: p.yMin, max: p.yMax, display: false },
        },
      } as any,
      plugins: [framePlugin(p)],
    });
    return () => chart.destroy();
  }, [p]);
  return (
    <canvas
      ref={ref}
      width={PAGE_W}
      height={p.height}
      style={{ position: "absolute", left: 0, top: p.top, width: PAGE_W, height: p.height, display: "block" }}
    />
  );
}

export default function App() {
  return (
    <div style={{ position: "absolute", left: 0, top: 0, width: PAGE_W, height: 1211, background: "#fff", overflow: "hidden" }}>
      {PANELS.map((p, i) => (
        <PanelChart key={i} p={p} />
      ))}
    </div>
  );
}
